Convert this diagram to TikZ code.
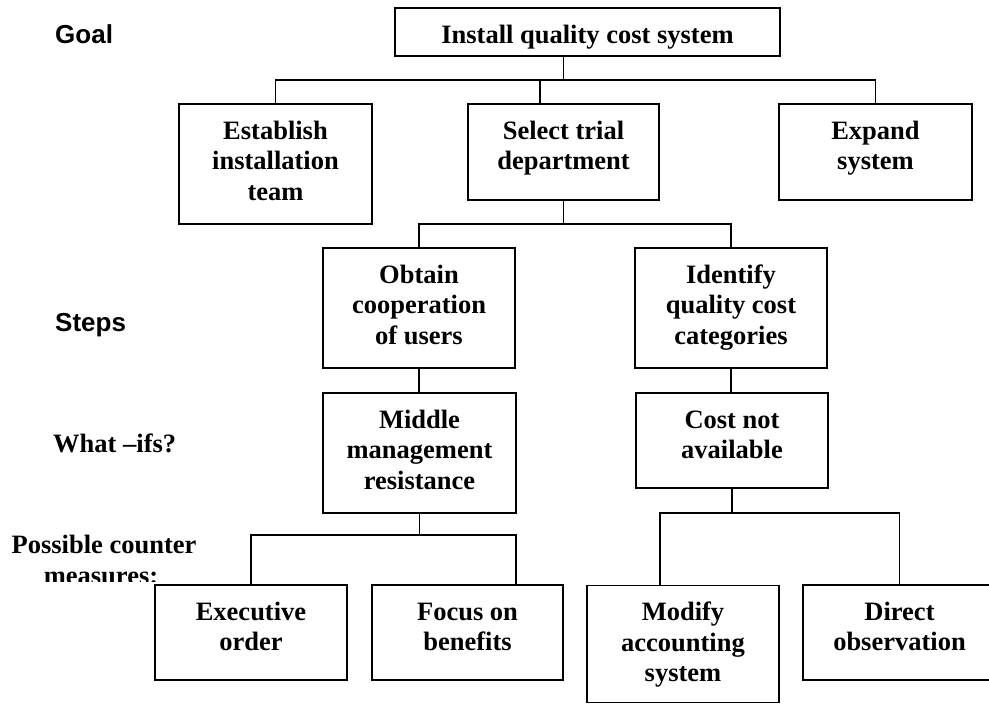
\documentclass[tikz,border=0pt]{standalone}
\usepackage{fontspec}
\setmainfont{Liberation Serif}
\newfontfamily\labelsans{Liberation Sans}
% box text: fixed-size frame, lines hung from the top
\newcommand\bx[3]{\parbox[c][#2pt][t]{#1pt}{\centering\rule{0pt}{35pt}#3}}
\begin{document}
\begin{tikzpicture}[x=1pt,y=-1pt,
  box/.style={draw, line width=1.9pt, inner sep=0pt, outer sep=0pt,
    font=\fontsize{26.5}{30.5}\selectfont\bfseries},
  link/.style={line width=1.9pt},
  rowlabel/.style={inner sep=0pt, anchor=base west},
  sanslabel/.style={rowlabel, font=\labelsans\bfseries\fontsize{26}{30}\selectfont},
  seriflabel/.style={font=\bfseries\fontsize{26.5}{30.5}\selectfont},
]
\useasboundingbox (0,0) rectangle (989,704);

% goal
\node[box] (top) at (587.5,32) {\bx{385}{48}{Install quality cost system}};

% steps
\node[box] (est) at (275.5,164) {\bx{193}{120}{Establish\\installation\\team}};
\node[box] (sel) at (563.5,152) {\bx{191}{96}{Select trial\\department}};
\node[box] (exp) at (875.5,152) {\bx{193}{96}{Expand\\system}};
\node[box] (obt) at (419,308) {\bx{192}{120}{Obtain\\cooperation\\of users}};
\node[box] (idf) at (731,308) {\bx{192}{120}{Identify\\quality cost\\categories}};

% what-ifs
\node[box] (mid) at (419.5,453) {\bx{193}{120}{Middle\\management\\resistance}};
\node[box] (cost) at (732,440.5) {\bx{192}{95}{Cost not\\available}};

% counter measures
\node[box] (exe) at (251,632.5) {\bx{192}{95}{Executive\\order}};
\node[box] (foc) at (467.5,632.5) {\bx{191}{95}{Focus on\\benefits}};
\node[box] (mod) at (683,644) {\bx{192}{117}{Modify\\accounting\\system}};
\node[box] (dir) at (899.5,632.5) {\bx{193}{95}{Direct\\observation}};

% connectors: goal -> steps
\coordinate (bus1) at (0,80);
\coordinate (selin) at ([xshift=-23.5pt]sel.north);
\draw[link] (top.south -| sel.north) -- (sel.north |- bus1);
\draw[link] (est.north) -- (est.north |- bus1) -- (exp.north |- bus1) -- (exp.north);
\draw[link] (selin |- bus1) -- (selin);

% select trial department -> sub-steps
\coordinate (bus2) at (0,224);
\draw[link] (sel.south) -- (sel.south |- bus2);
\draw[link] (obt.north) -- (obt.north |- bus2) -- (idf.north |- bus2) -- (idf.north);

% sub-steps -> what-ifs
\draw[link] (obt.south) -- (obt.south |- mid.north);
\draw[link] (idf.south) -- (idf.south |- cost.north);

% what-ifs -> counter measures
\coordinate (bus3) at (0,535);
\draw[link] (mid.south) -- (mid.south |- bus3);
\draw[link] (exe.north) -- (exe.north |- bus3) -- (bus3 -| mid.east) -- (foc.north -| mid.east);
\coordinate (bus4) at (0,513);
\coordinate (modin) at ([xshift=-23pt]mod.north);
\draw[link] (cost.south) -- (cost.south |- bus4);
\draw[link] (modin) -- (modin |- bus4) -- (dir.north |- bus4) -- (dir.north);

% row labels
\node[sanslabel] (goal) at (55,43) {Goal};
\node[sanslabel] (steps) at (55,331) {Steps};
\node[rowlabel, seriflabel] (whatif) at (53,452) {What –ifs?};
\node[seriflabel, inner sep=0pt, anchor=base] (counter) at (104,553) {Possible counter};
\begin{scope}
  \clip (0,560) rectangle (300,581.5);
  \node[seriflabel, inner sep=0pt, anchor=base] (measures) at (101,584) {measures:};
\end{scope}
\end{tikzpicture}
\end{document}
